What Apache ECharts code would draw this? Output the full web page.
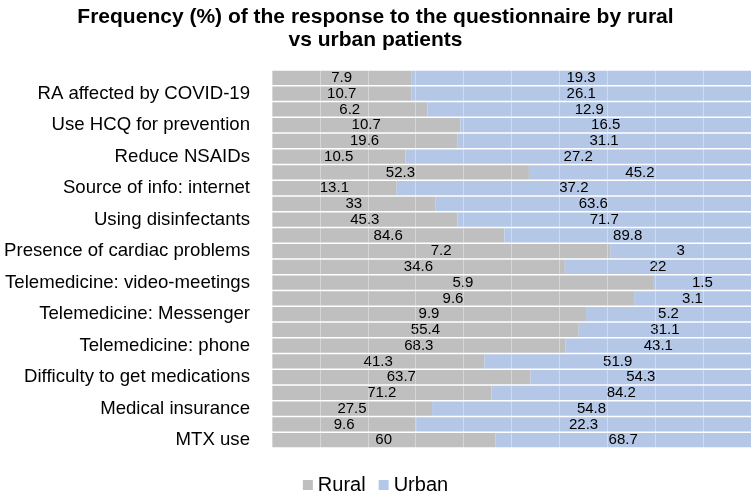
<!DOCTYPE html>
<html>
<head>
<meta charset="utf-8">
<script src="https://cdn.jsdelivr.net/npm/echarts@6/dist/echarts.min.js"></script>
<style>
html,body{margin:0;padding:0;background:#fff;}
#chart{width:751px;height:498px;}
</style>
</head>
<body>
<div id="chart"></div>
<script>
var titleText = 'Frequency (%) of the response to the questionnaire by rural\nvs urban patients';
var questionLabels = [
  'RA affected by COVID-19',
  'Use HCQ for prevention',
  'Reduce NSAIDs',
  'Source of info: internet',
  'Using disinfectants',
  'Presence of cardiac problems',
  'Telemedicine: video-meetings',
  'Telemedicine: Messenger',
  'Telemedicine: phone',
  'Difficulty to get medications',
  'Medical insurance',
  'MTX use'
];
var rural = [7.9,10.7,6.2,10.7,19.6,10.5,52.3,13.1,33,45.3,84.6,7.2,34.6,5.9,9.6,9.9,55.4,68.3,41.3,63.7,71.2,27.5,9.6,60];
var urban = [19.3,26.1,12.9,16.5,31.1,27.2,45.2,37.2,63.6,71.7,89.8,3,22,1.5,3.1,5.2,31.1,43.1,51.9,54.3,84.2,54.8,22.3,68.7];
var seriesNames = ['Rural','Urban'];

var categories = rural.map(function(_, i){ return 'row' + (i + 1); });
function share(a, b){ return a / (a + b) * 100; }
var ruralData = rural.map(function(v, i){ return {value: share(v, urban[i]), raw: v}; });
var urbanData = urban.map(function(v, i){ return {value: share(v, rural[i]), raw: v}; });

var FONT = 'Liberation Sans, Arial, sans-serif';
var chart = echarts.init(document.getElementById('chart'), null, {renderer: 'canvas'});
var labelCfg = {
  show: true, position: 'inside', color: '#000', fontSize: 15, fontFamily: FONT,
  formatter: function(p){ return String(p.data.raw); }
};
chart.setOption({
  animation: false,
  backgroundColor: '#fff',
  title: {
    text: titleText, left: 'center', top: 1,
    textStyle: {fontSize: 21, fontWeight: 'bold', color: '#000', fontFamily: FONT, lineHeight: 23}
  },
  legend: {
    data: seriesNames, top: 470, left: 'center', icon: 'rect',
    itemWidth: 10, itemHeight: 10, itemGap: 13,
    textStyle: {fontSize: 20, color: '#000', fontFamily: FONT}
  },
  grid: {left: 272, right: 0, top: 70, bottom: 50, containLabel: false, outerBoundsMode: 'none'},
  xAxis: {
    type: 'value', min: 0, max: 100, interval: 10, z: 5,
    axisLabel: {show: false}, axisLine: {show: false}, axisTick: {show: false},
    splitLine: {show: true, lineStyle: {color: 'rgba(255,255,255,0.35)', width: 1}}
  },
  yAxis: {
    type: 'category', data: categories, inverse: true,
    axisLine: {show: false}, axisTick: {show: false},
    axisLabel: {
      interval: 0, fontSize: 18.6, color: '#000', fontFamily: FONT, margin: 22,
      formatter: function(v, i){ return i % 2 === 1 ? questionLabels[(i - 1) / 2] : ''; }
    }
  },
  series: [
    {name: seriesNames[0], type: 'bar', stack: 'all', data: ruralData, barCategoryGap: '10%',
     itemStyle: {color: '#BFBFBF'}, label: labelCfg},
    {name: seriesNames[1], type: 'bar', stack: 'all', data: urbanData, barCategoryGap: '10%',
     itemStyle: {color: '#B4C7E7'}, label: labelCfg}
  ]
});
</script>
</body>
</html>
